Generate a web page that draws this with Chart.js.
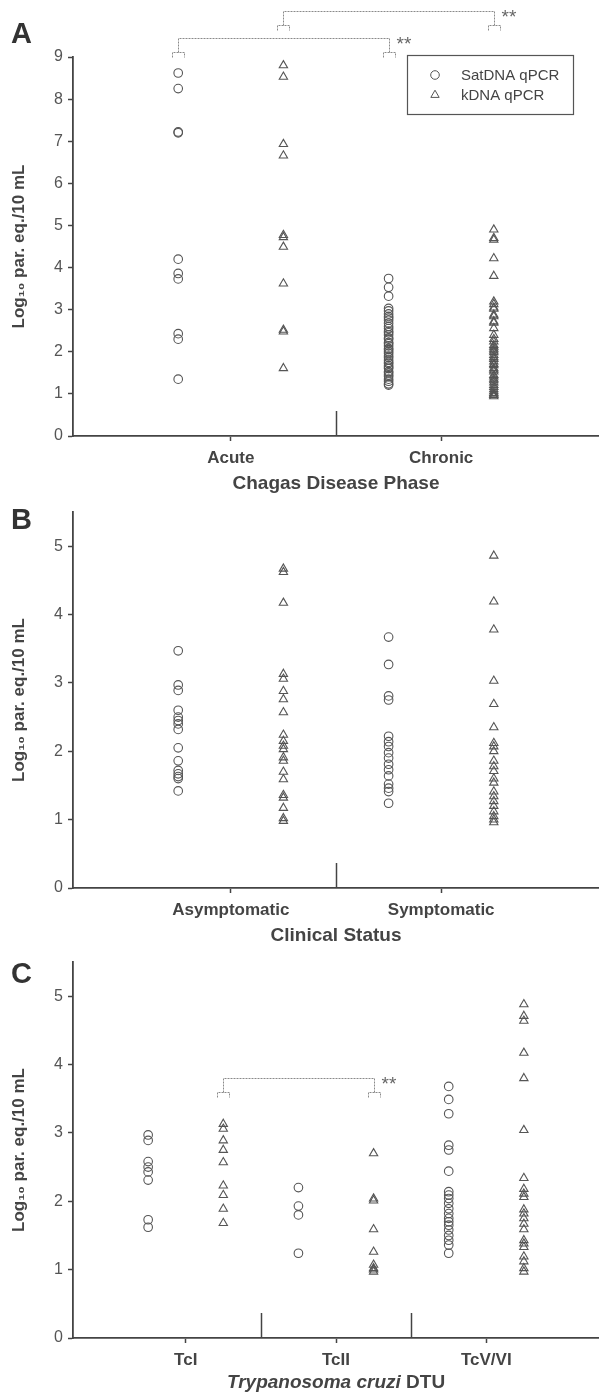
<!DOCTYPE html>
<html>
<head>
<meta charset="utf-8">
<script src="https://cdn.jsdelivr.net/npm/chart.js@4.4.0/dist/chart.umd.min.js"></script>
<style>
  body { margin: 0; background: #fff; width: 599px; height: 1394px; position: relative; overflow: hidden; }
  .panel { position: absolute; left: 0; width: 599px; }
</style>
</head>
<body>
<div class="panel" style="top:0;height:495px"><canvas id="chartA"></canvas></div>
<div class="panel" style="top:495px;height:450px"><canvas id="chartB"></canvas></div>
<div class="panel" style="top:945px;height:449px"><canvas id="chartC"></canvas></div>
<script>
'use strict';

// series names
const seriesNames = ['SatDNA qPCR', 'kDNA qPCR'];

// A: disease phase
const phaseLabels = ['Acute', 'Chronic'];
const satAcute = [8.62, 8.25, 7.22, 7.20, 4.20, 3.86, 3.73, 2.43, 2.30, 1.35];
const kdnaAcute = [8.80, 8.53, 6.93, 6.66, 4.77, 4.72, 4.49, 3.62, 2.52, 2.48, 1.61];
const satChronic = [3.74, 3.53, 3.32, 3.03, 2.97, 2.90, 2.84, 2.80, 2.75, 2.68, 2.60, 2.55, 2.49,
  2.45, 2.40, 2.33, 2.30, 2.22, 2.19, 2.14, 2.08, 2.05, 2.00, 1.96, 1.90, 1.86, 1.80, 1.75,
  1.72, 1.67, 1.63, 1.60, 1.53, 1.50, 1.45, 1.41, 1.35, 1.30, 1.24, 1.21];
const kdnaChronic = [4.90, 4.70, 4.66, 4.22, 3.80, 3.19, 3.13, 3.05, 3.02, 2.88, 2.84, 2.72,
  2.69, 2.56, 2.40, 2.30, 2.24, 2.16, 2.12, 2.07, 2.03, 1.99, 1.92, 1.87, 1.83, 1.77, 1.71,
  1.68, 1.61, 1.57, 1.53, 1.45, 1.41, 1.36, 1.32, 1.27, 1.21, 1.16, 1.11, 1.06, 1.02, 0.99,
  0.97, 0.94];

// B: clinical status
const statusLabels = ['Asymptomatic', 'Symptomatic'];
const satAsym = [3.47, 2.97, 2.89, 2.60, 2.50, 2.45, 2.40, 2.32, 2.05, 1.86, 1.72, 1.67, 1.63, 1.60, 1.42];
const kdnaAsym = [4.67, 4.62, 4.17, 3.13, 3.06, 2.88, 2.76, 2.57, 2.24, 2.15, 2.08, 2.03, 1.91,
  1.86, 1.70, 1.59, 1.36, 1.32, 1.17, 1.02, 0.98];
const satSym = [3.67, 3.27, 2.81, 2.75, 2.22, 2.14, 2.07, 1.98, 1.90, 1.81, 1.73, 1.64, 1.52, 1.46, 1.41, 1.24];
const kdnaSym = [4.86, 4.19, 3.78, 3.03, 2.69, 2.35, 2.12, 2.07, 2.00, 1.86, 1.78, 1.71, 1.60,
  1.54, 1.41, 1.34, 1.27, 1.20, 1.12, 1.05, 1.00, 0.96];

// C: DTU
const dtuLabels = ['TcI', 'TcII', 'TcV/VI'];
const satTcI = [2.97, 2.89, 2.58, 2.50, 2.43, 2.31, 1.73, 1.62];
const kdnaTcI = [3.13, 3.06, 2.89, 2.75, 2.57, 2.23, 2.09, 1.89, 1.68];
const satTcII = [2.20, 1.93, 1.80, 1.24];
const kdnaTcII = [2.70, 2.04, 2.01, 1.59, 1.26, 1.07, 1.02, 1.00, 0.97];
const satTcV = [3.68, 3.49, 3.28, 2.82, 2.75, 2.44, 2.14, 2.09, 2.04, 1.97, 1.89, 1.82, 1.75,
  1.70, 1.65, 1.58, 1.50, 1.43, 1.36, 1.24];
const kdnaTcV = [4.88, 4.71, 4.64, 4.17, 3.80, 3.04, 2.34, 2.18, 2.11, 2.06, 1.88, 1.82, 1.75,
  1.67, 1.59, 1.43, 1.38, 1.33, 1.19, 1.12, 1.02, 0.97];

const FONT = '"Liberation Sans", Arial, sans-serif';
Chart.defaults.font.family = FONT;
Chart.defaults.color = '#555';

const MARK = '#555';

function drawMarker(ctx, style, x, y, r) {
  ctx.beginPath();
  if (style === 'circle') {
    ctx.arc(x, y, r, 0, Math.PI * 2);
  } else {
    ctx.moveTo(x, y - r);
    ctx.lineTo(x + Math.sin(2 * Math.PI / 3) * r, y - Math.cos(2 * Math.PI / 3) * r);
    ctx.lineTo(x + Math.sin(4 * Math.PI / 3) * r, y - Math.cos(4 * Math.PI / 3) * r);
    ctx.closePath();
  }
  ctx.stroke();
}

// panel letter, dividers, significance brackets, legend, custom x title
const decor = {
  id: 'decor',
  afterDraw(chart, args, o) {
    const ctx = chart.ctx;
    const xs = chart.scales.x, ys = chart.scales.y;
    ctx.save();

    ctx.fillStyle = '#333';
    ctx.font = 'bold 29px ' + FONT;
    ctx.textBaseline = 'alphabetic';
    ctx.textAlign = 'left';
    ctx.fillText(o.letter, 11, o.letterY);

    ctx.strokeStyle = '#444';
    ctx.lineWidth = 1.5;
    (o.dividers || []).forEach(v => {
      const px = Math.round(xs.getPixelForValue(v)) + 0.5;
      ctx.beginPath();
      ctx.moveTo(px, ys.bottom);
      ctx.lineTo(px, ys.bottom - 25);
      ctx.stroke();
    });

    (o.brackets || []).forEach(b => {
      const x1 = Math.round(xs.getPixelForValue(b.from)) + 0.5;
      const x2 = Math.round(xs.getPixelForValue(b.to)) + 0.5;
      const y = Math.round(ys.getPixelForValue(b.y)) + 0.5;
      ctx.strokeStyle = '#8a8a8a';
      ctx.lineWidth = 1;
      ctx.setLineDash([2, 1]);
      ctx.beginPath();
      ctx.moveTo(x1, y + 14); ctx.lineTo(x1, y); ctx.lineTo(x2, y); ctx.lineTo(x2, y + 14);
      [x1, x2].forEach(x => {
        ctx.moveTo(x - 6, y + 19); ctx.lineTo(x - 6, y + 14);
        ctx.lineTo(x + 6, y + 14); ctx.lineTo(x + 6, y + 19);
      });
      ctx.stroke();
      ctx.setLineDash([]);
      ctx.fillStyle = '#666';
      ctx.font = '19px ' + FONT;
      ctx.fillText('**', x2 + 7, y + 11);
    });

    if (o.legend) {
      const left = chart.chartArea.right - 192, top = chart.chartArea.top - 2;
      ctx.strokeStyle = '#555';
      ctx.lineWidth = 1.2;
      ctx.strokeRect(left + 0.5, top + 0.5, 166, 59);
      ctx.font = '15px ' + FONT;
      ctx.fillStyle = '#444';
      ctx.textBaseline = 'middle';
      ctx.lineWidth = 1;
      ctx.strokeStyle = MARK;
      ['circle', 'triangle'].forEach((st, i) => {
        const cy = top + 20 + i * 20;
        drawMarker(ctx, st, left + 28, cy, st === 'circle' ? 4.3 : 4.8);
        ctx.fillText(seriesNames[i], left + 54, cy + 1);
      });
    }

    if (o.title) {
      let w = 0;
      o.title.forEach(p => {
        ctx.font = (p.italic ? 'italic ' : '') + 'bold 19px ' + FONT;
        w += ctx.measureText(p.text).width;
      });
      let x = (chart.chartArea.left + chart.chartArea.right) / 2 - w / 2;
      ctx.fillStyle = '#444';
      ctx.textBaseline = 'middle';
      o.title.forEach(p => {
        ctx.font = (p.italic ? 'italic ' : '') + 'bold 19px ' + FONT;
        ctx.fillText(p.text, x, o.titleY);
        x += ctx.measureText(p.text).width;
      });
    }
    ctx.restore();
  }
};

function makePanel(id, groups, cfg) {
  const n = groups.length;
  const sat = groups.flatMap((g, i) => g.sat.map(v => ({ x: 2 * i + 1, y: v })));
  const kdna = groups.flatMap((g, i) => g.kdna.map(v => ({ x: 2 * i + 2, y: v })));
  const tickVals = groups.map((g, i) => 2 * i + 1.5);
  const dividers = groups.slice(1).map((g, i) => 2 * i + 2.5);

  new Chart(document.getElementById(id), {
    type: 'scatter',
    data: {
      datasets: [
        { label: seriesNames[0], data: sat, pointStyle: 'circle', pointRadius: 4.3,
          borderColor: MARK, backgroundColor: 'rgba(0,0,0,0)', borderWidth: 1.1 },
        { label: seriesNames[1], data: kdna, pointStyle: 'triangle', pointRadius: 4.8,
          borderColor: MARK, backgroundColor: 'rgba(0,0,0,0)', borderWidth: 1.1 }
      ]
    },
    options: {
      responsive: true,
      maintainAspectRatio: false,
      animation: false,
      layout: { autoPadding: false, padding: { top: cfg.top, right: 0, left: 0, bottom: 0 } },
      plugins: {
        legend: { display: false },
        tooltip: { enabled: false },
        decor: {
          letter: cfg.letter, letterY: cfg.letterY, dividers: dividers,
          brackets: cfg.brackets, legend: cfg.legend, title: cfg.titleParts, titleY: cfg.titleY
        }
      },
      scales: {
        x: {
          type: 'linear',
          min: 0,
          max: 2 * n + 1,
          afterFit: s => { s.height = cfg.xHeight; },
          afterBuildTicks: s => { s.ticks = tickVals.map(v => ({ value: v })); },
          ticks: {
            callback: (v, i) => groups[i].label,
            font: { size: 17, weight: 'bold' },
            color: '#444',
            padding: 7,
            maxRotation: 0,
            autoSkip: false
          },
          grid: { drawOnChartArea: false, tickLength: 5, tickColor: '#444', tickWidth: 1.5 },
          border: { display: true, color: '#444', width: 1.8 },
          title: {
            display: !!cfg.xTitle,
            text: cfg.xTitle || '',
            font: { size: 19, weight: 'bold', lineHeight: 1 },
            color: '#444',
            padding: { top: 0, bottom: cfg.xTitlePad || 0 }
          }
        },
        y: {
          min: 0,
          max: cfg.yMax,
          afterFit: s => { s.width = 73; },
          ticks: { stepSize: 1, includeBounds: false, font: { size: 16 }, color: '#555', padding: 5 },
          grid: { drawOnChartArea: false, tickLength: 5, tickColor: '#444', tickWidth: 1.5 },
          border: { display: true, color: '#444', width: 1.8 },
          title: {
            display: true,
            text: 'Log\u2081\u2080 par. eq./10 mL',
            font: { size: 17, weight: 'bold', lineHeight: 1.2 },
            color: '#444',
            padding: { top: 9, bottom: 0 }
          }
        }
      }
    },
    plugins: [decor]
  });
}

makePanel('chartA', [
  { label: phaseLabels[0], sat: satAcute, kdna: kdnaAcute },
  { label: phaseLabels[1], sat: satChronic, kdna: kdnaChronic }
], {
  letter: 'A', letterY: 43, top: 57, xHeight: 59, yMax: 9,
  xTitle: 'Chagas Disease Phase', xTitlePad: 1.5,
  legend: true,
  brackets: [{ from: 1, to: 3, y: 9.45 }, { from: 2, to: 4, y: 10.09 }]
});

makePanel('chartB', [
  { label: statusLabels[0], sat: satAsym, kdna: kdnaAsym },
  { label: statusLabels[1], sat: satSym, kdna: kdnaSym }
], {
  letter: 'B', letterY: 34, top: 17, xHeight: 57, yMax: 5.5,
  xTitle: 'Clinical Status', xTitlePad: 0,
  brackets: []
});

makePanel('chartC', [
  { label: dtuLabels[0], sat: satTcI, kdna: kdnaTcI },
  { label: dtuLabels[1], sat: satTcII, kdna: kdnaTcII },
  { label: dtuLabels[2], sat: satTcV, kdna: kdnaTcV }
], {
  letter: 'C', letterY: 38, top: 17, xHeight: 56, yMax: 5.5,
  titleParts: [{ text: 'Trypanosoma cruzi', italic: true }, { text: ' DTU', italic: false }],
  titleY: 438,
  brackets: [{ from: 2, to: 4, y: 3.81 }]
});
</script>
</body>
</html>
